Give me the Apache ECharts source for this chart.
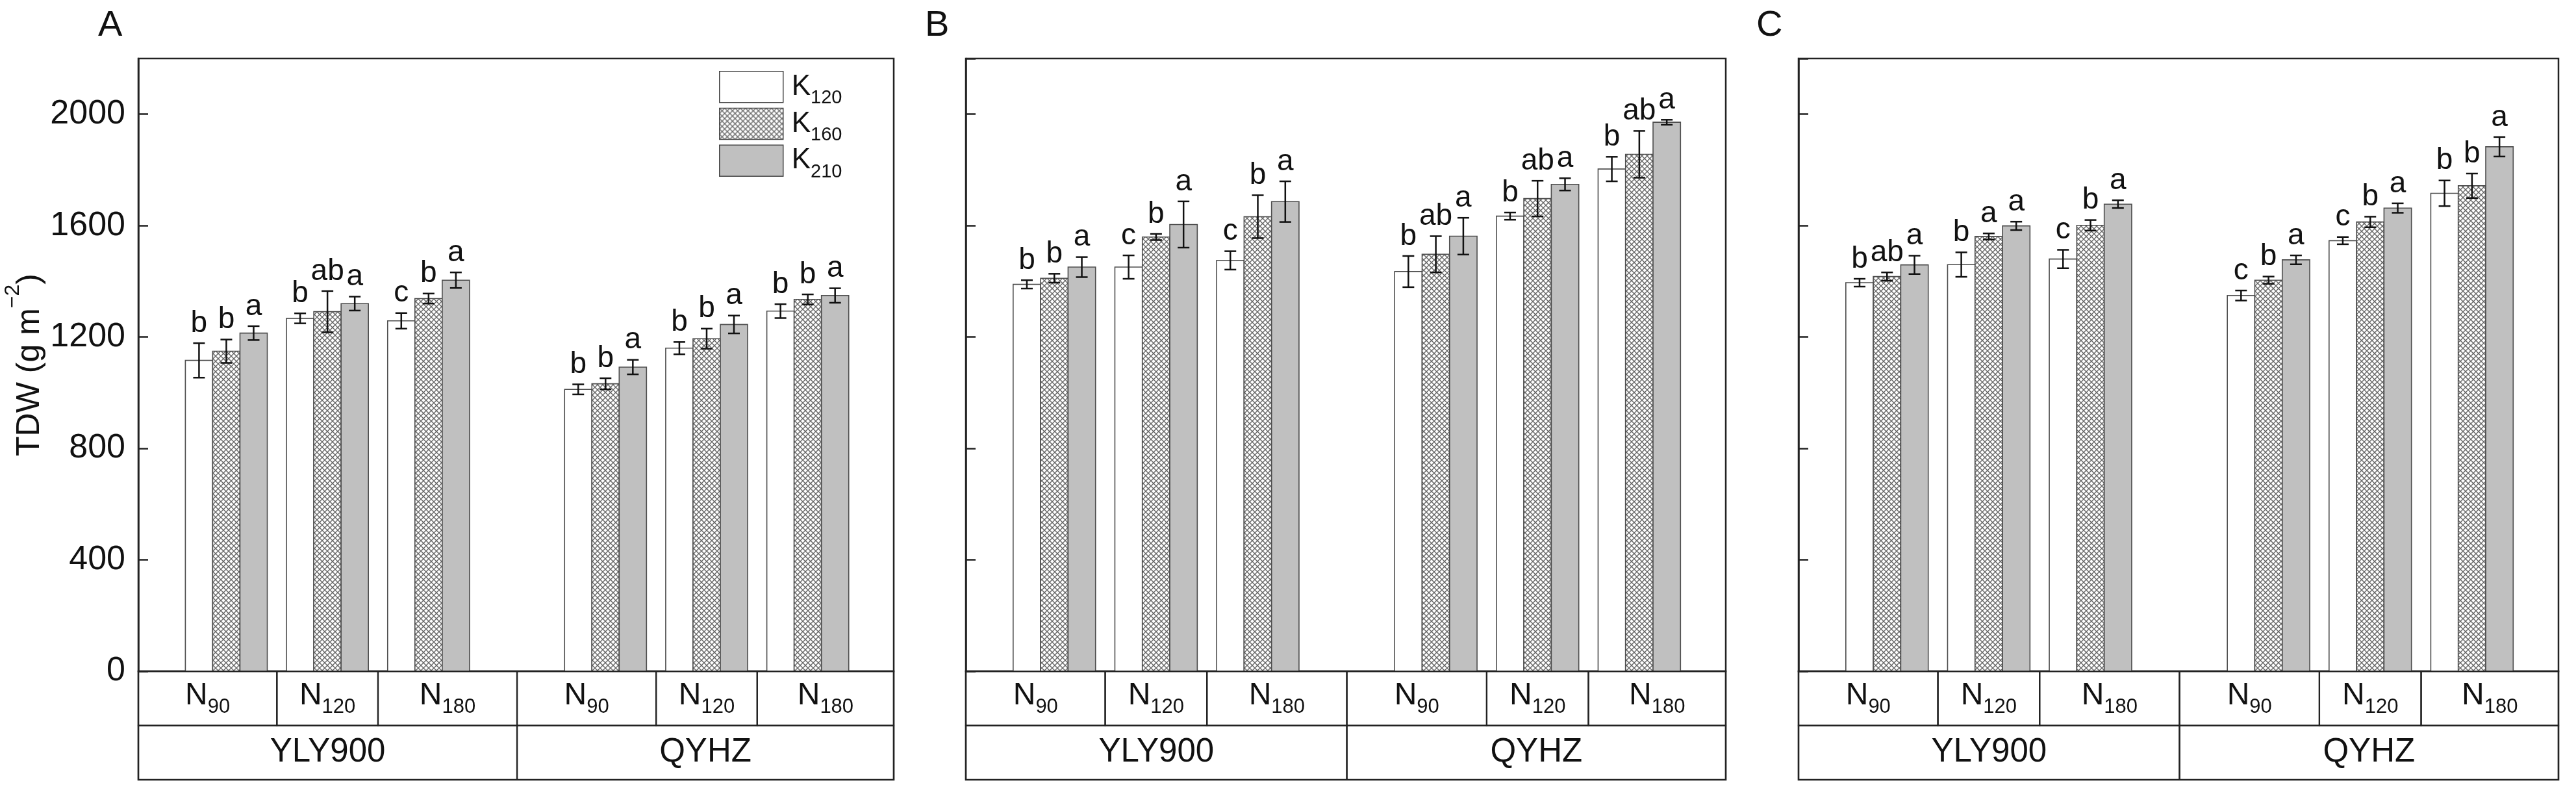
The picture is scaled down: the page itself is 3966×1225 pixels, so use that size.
<!DOCTYPE html>
<html><head><meta charset="utf-8">
<script src="https://cdn.jsdelivr.net/npm/echarts@6/dist/echarts.min.js"></script>
<style>html,body{margin:0;padding:0;background:#fff}#c{width:3966px;height:1225px}</style>
</head><body><div id="c"></div>
<script>
// ---------- data ----------
const panels = ['A', 'B', 'C'];
const cultivars = ['YLY900', 'QYHZ'];
const nLevels = ['90', '120', '180'];
const kLevels = ['120', '160', '210'];
const yAxisName = 'TDW (g m';

// order per array: YLY900 N90,N120,N180, QYHZ N90,N120,N180
const tdwA_K120 = [1116, 1267, 1258, 1012, 1160, 1293];
const tdwA_K160 = [1149, 1291, 1338, 1032, 1194, 1335];
const tdwA_K210 = [1214, 1320, 1404, 1092, 1245, 1349];
const seA_K120 = [62, 18, 28, 18, 22, 25];
const seA_K160 = [42, 74, 18, 20, 36, 18];
const seA_K210 = [25, 25, 28, 26, 32, 26];
const letA_K120 = ['b', 'b', 'c', 'b', 'b', 'b'];
const letA_K160 = ['b', 'ab', 'b', 'b', 'b', 'b'];
const letA_K210 = ['a', 'a', 'a', 'a', 'a', 'a'];

const tdwB_K120 = [1389, 1451, 1475, 1435, 1634, 1803];
const tdwB_K160 = [1411, 1559, 1632, 1497, 1697, 1856];
const tdwB_K210 = [1451, 1604, 1686, 1562, 1748, 1971];
const seB_K120 = [15, 42, 33, 56, 13, 44];
const seB_K160 = [16, 11, 77, 65, 64, 84];
const seB_K210 = [36, 83, 73, 66, 22, 9];
const letB_K120 = ['b', 'c', 'c', 'b', 'b', 'b'];
const letB_K160 = ['b', 'b', 'b', 'ab', 'ab', 'ab'];
const letB_K210 = ['a', 'a', 'a', 'a', 'a', 'a'];

const tdwC_K120 = [1395, 1460, 1480, 1349, 1546, 1716];
const tdwC_K160 = [1417, 1561, 1601, 1404, 1613, 1743];
const tdwC_K210 = [1459, 1599, 1677, 1477, 1663, 1883];
const seC_K120 = [14, 44, 33, 18, 13, 46];
const seC_K160 = [15, 11, 19, 13, 19, 44];
const seC_K210 = [33, 15, 14, 16, 17, 35];
const letC_K120 = ['b', 'b', 'c', 'c', 'c', 'b'];
const letC_K160 = ['ab', 'a', 'b', 'b', 'b', 'b'];
const letC_K210 = ['a', 'a', 'a', 'a', 'a', 'a'];

const panelVals = [[tdwA_K120, tdwA_K160, tdwA_K210], [tdwB_K120, tdwB_K160, tdwB_K210], [tdwC_K120, tdwC_K160, tdwC_K210]];
const panelErrs = [[seA_K120, seA_K160, seA_K210], [seB_K120, seB_K160, seB_K210], [seC_K120, seC_K160, seC_K210]];
const panelLets = [[letA_K120, letA_K160, letA_K210], [letB_K120, letB_K160, letB_K210], [letC_K120, letC_K160, letC_K210]];

// ---------- layout / style ----------
const FF = '"Liberation Sans", Arial, Helvetica, sans-serif';
const X_MIN = 0.13, X_MAX = 7.6, BW = 0.27, CULT_GAP = 3.75;
const groupX = (ci, ni) => 1 + ni + ci * CULT_GAP;
const SPLIT = (groupX(0, 2) + groupX(1, 0)) / 2;
const gridLeft = [213, 1487, 2769];
const gridWidth = [1163, 1170, 1170];
const TOP = 90, BASE = 1033, BOTTOM = 1200;
const titleLeft = [151, 1424, 2704];

function makeHatch() {
  const c = document.createElement('canvas');
  c.width = 8; c.height = 8;
  const g = c.getContext('2d');
  g.fillStyle = '#ffffff'; g.fillRect(0, 0, 8, 8);
  g.strokeStyle = '#666666'; g.lineWidth = 1.4;
  g.beginPath();
  g.moveTo(-1, -1); g.lineTo(9, 9);
  g.moveTo(-1, 9); g.lineTo(9, -1);
  g.stroke();
  return c;
}
const hatch = { image: makeHatch(), repeat: 'repeat' };
const fills = ['#ffffff', hatch, '#c0c0c0'];

function barRender(k, lets) {
  return function (params, api) {
    const x = api.value(0), v = api.value(1), e = api.value(2);
    const xl = x + (k - 1.5) * BW, xr = xl + BW, xc = xl + BW / 2;
    const tl = api.coord([xl, v]), br = api.coord([xr, 0]);
    const et = api.coord([xc, v + e]), eb = api.coord([xc, v - e]);
    const cap = 9;
    const ls = { stroke: '#111', lineWidth: 2.5 };
    return {
      type: 'group',
      children: [
        { type: 'rect', shape: { x: tl[0], y: tl[1], width: br[0] - tl[0], height: br[1] - tl[1] },
          style: { fill: fills[k], stroke: '#4d4d4d', lineWidth: 1.6 } },
        { type: 'line', shape: { x1: et[0], y1: et[1], x2: eb[0], y2: eb[1] }, style: ls },
        { type: 'line', shape: { x1: et[0] - cap, y1: et[1], x2: et[0] + cap, y2: et[1] }, style: ls },
        { type: 'line', shape: { x1: eb[0] - cap, y1: eb[1], x2: eb[0] + cap, y2: eb[1] }, style: ls },
        { type: 'text', x: et[0], y: et[1] - 7, z2: 10,
          style: { text: lets[params.dataIndex], fill: '#111', fontSize: 46, fontFamily: FF,
                   align: 'center', verticalAlign: 'bottom' } }
      ]
    };
  };
}

function tableRender(params, api) {
  const ci = api.value(0), ni = api.value(1);
  const cx0 = ci === 0 ? X_MIN : SPLIT, cx1 = ci === 0 ? SPLIT : X_MAX;
  let x0, x1, y0, y1, text;
  if (ni < 0) {
    x0 = cx0; x1 = cx1; y0 = 0; y1 = 1;
    text = '{c|' + cultivars[ci] + '}';
  } else {
    x0 = ni === 0 ? cx0 : groupX(ci, ni) - 0.5;
    x1 = ni === 2 ? cx1 : groupX(ci, ni) + 0.5;
    y0 = 1; y1 = 2;
    text = '{n|N}{s|' + nLevels[ni] + '}';
  }
  const p0 = api.coord([x0, y1]), p1 = api.coord([x1, y0]);
  const mid = api.coord([(x0 + x1) / 2, (y0 + y1) / 2]);
  return {
    type: 'group',
    children: [
      { type: 'rect', shape: { x: p0[0], y: p0[1], width: p1[0] - p0[0], height: p1[1] - p0[1] },
        style: { fill: 'none', stroke: '#222', lineWidth: 2.2 } },
      { type: 'text', x: mid[0], y: mid[1] + (ni < 0 ? 0 : -4),
        style: { text: text, align: 'center', verticalAlign: 'middle', fill: '#111',
          rich: {
            c: { fontSize: 51, fontFamily: FF, fill: '#111' },
            n: { fontSize: 48, fontFamily: FF, fill: '#111', lineHeight: 66, verticalAlign: 'middle' },
            s: { fontSize: 31, fontFamily: FF, fill: '#111', lineHeight: 66, verticalAlign: 'bottom' }
          } } }
    ]
  };
}

const grids = [], xAxes = [], yAxes = [], series = [];
panels.forEach((p, pi) => {
  grids.push({ left: gridLeft[pi], top: TOP, width: gridWidth[pi], height: BASE - TOP,
               show: true, borderColor: '#222', borderWidth: 2.5, backgroundColor: 'transparent' });
  grids.push({ left: gridLeft[pi], top: BASE, width: gridWidth[pi], height: BOTTOM - BASE,
               show: true, borderColor: '#222', borderWidth: 2.5, backgroundColor: 'transparent' });
  for (let j = 0; j < 2; j++) {
    xAxes.push({ type: 'value', gridIndex: 2 * pi + j, min: X_MIN, max: X_MAX, show: false });
  }
  const ya = {
    type: 'value', gridIndex: 2 * pi, min: 0, max: 2200, interval: 400,
    axisLine: { show: true, lineStyle: { color: '#222', width: 2.5 } },
    axisTick: { show: true, inside: true, length: 15, lineStyle: { color: '#222', width: 2.5 } },
    axisLabel: { show: pi === 0, fontSize: 52, fontFamily: FF, color: '#111', margin: 20,
                 showMaxLabel: false, formatter: v => String(v) },
    splitLine: { show: false }
  };
  if (pi === 0) {
    ya.name = '{a|' + yAxisName + '}{b|\u22122}{a|)}';
    ya.nameLocation = 'middle';
    ya.nameGap = 125;
    ya.nameRotate = 90;
    ya.nameTextStyle = { rich: {
      a: { fontSize: 50, fontFamily: FF, color: '#111', lineHeight: 84, verticalAlign: 'middle' },
      b: { fontSize: 32, fontFamily: FF, color: '#111', lineHeight: 84, verticalAlign: 'top' }
    } };
  }
  yAxes.push(ya);
  yAxes.push({ type: 'value', gridIndex: 2 * pi + 1, min: 0, max: 2, show: false });

  kLevels.forEach((k, ki) => {
    const vals = panelVals[pi][ki], errs = panelErrs[pi][ki];
    series.push({
      type: 'custom', name: 'K' + k, xAxisIndex: 2 * pi, yAxisIndex: 2 * pi, clip: false,
      itemStyle: { color: fills[ki], borderColor: '#444', borderWidth: 1.5 },
      encode: { x: 0, y: 1 },
      data: vals.map((v, i) => [groupX(Math.floor(i / 3), i % 3), v, errs[i]]),
      renderItem: barRender(ki, panelLets[pi][ki])
    });
  });
  const cells = [];
  cultivars.forEach((c, ci) => {
    cells.push([ci, -1]);
    nLevels.forEach((n, ni) => cells.push([ci, ni]));
  });
  series.push({
    type: 'custom', name: 'table' + p, xAxisIndex: 2 * pi + 1, yAxisIndex: 2 * pi + 1, clip: false,
    silent: true, data: cells, renderItem: tableRender
  });
});

const option = {
  animation: false,
  backgroundColor: '#ffffff',
  title: panels.map((t, i) => ({ text: t, left: titleLeft[i], top: 12, padding: 0,
    textStyle: { fontSize: 56, fontWeight: 'normal', color: '#111', fontFamily: FF } })),
  legend: {
    left: 1107, top: 109, orient: 'vertical', itemWidth: 98, itemHeight: 48, itemGap: 0,
    padding: 0, selectedMode: false,
    data: kLevels.map((k, i) => ({ name: 'K' + k, icon: 'rect',
      itemStyle: { color: fills[i], borderColor: '#444', borderWidth: 1.5 } })),
    formatter: n => '{k|K}{s|' + n.slice(1) + '}',
    textStyle: { padding: [0, 0, 0, 8], rich: {
      k: { fontSize: 44, fontFamily: FF, color: '#111', lineHeight: 64, verticalAlign: 'middle' },
      s: { fontSize: 29, fontFamily: FF, color: '#111', lineHeight: 64, verticalAlign: 'bottom' }
    } }
  },
  grid: grids, xAxis: xAxes, yAxis: yAxes, series: series
};
const chart = echarts.init(document.getElementById('c'), null, { renderer: 'canvas' });
chart.setOption(option);
</script></body></html>
